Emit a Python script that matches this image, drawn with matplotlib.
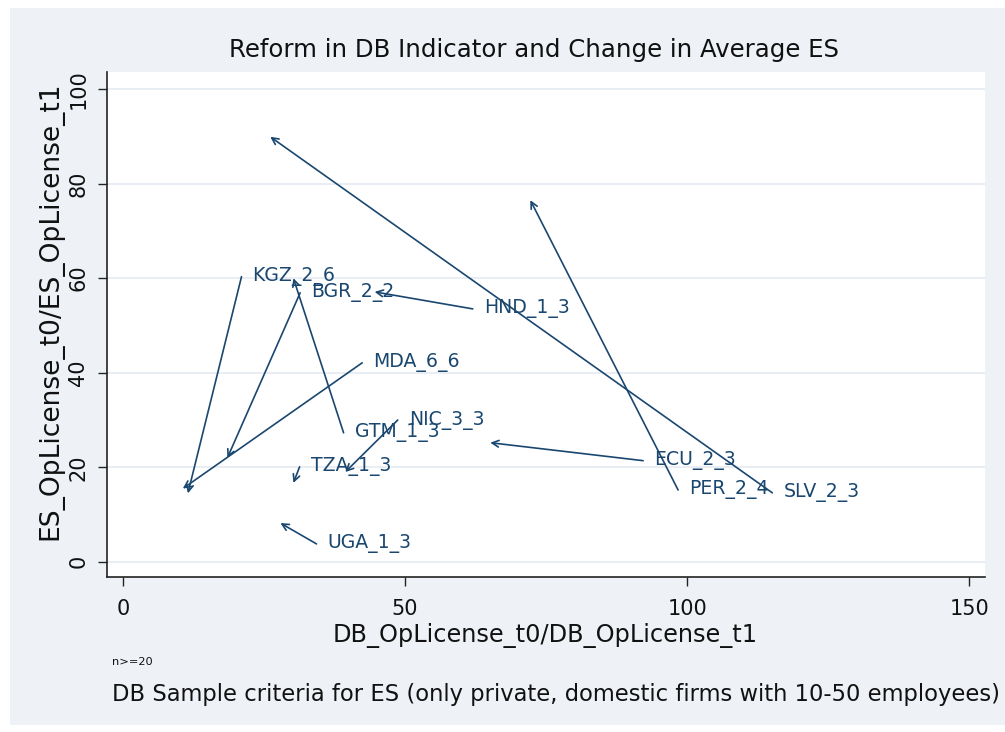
import matplotlib
matplotlib.use("Agg")
import matplotlib.pyplot as plt
from matplotlib.patches import Rectangle

plt.rcParams['font.family'] = ['DejaVu Sans']

# ---- data ----
countries = ["KGZ_2_6", "BGR_2_2", "HND_1_3", "MDA_6_6", "GTM_1_3", "NIC_3_3",
             "TZA_1_3", "UGA_1_3", "ECU_2_3", "PER_2_4", "SLV_2_3"]
db_t0 = [21.0, 31.4, 62.0, 42.4, 39.1, 48.7, 31.3, 34.3, 92.2, 98.4, 115.1]
es_t0 = [60.3, 56.9, 53.5, 42.1, 27.3, 30.0, 20.1, 3.8, 21.4, 15.2, 14.6]
db_t1 = [11.5, 18.5, 44.6, 10.6, 30.2, 39.4, 30.2, 27.9, 65.1, 72.2, 26.1]
es_t1 = [14.5, 22.0, 57.1, 15.5, 60.0, 19.0, 16.7, 8.2, 25.2, 76.5, 89.9]

x_ticks = [0, 50, 100, 150]
y_ticks = [0, 20, 40, 60, 80, 100]

title = "Reform in DB Indicator and Change in Average ES"
xlabel = "DB_OpLicense_t0/DB_OpLicense_t1"
ylabel = "ES_OpLicense_t0/ES_OpLicense_t1"
note1 = "n>=20"
note2 = "DB Sample criteria for ES (only private, domestic firms with 10-50 employees)"

navy = "#1a476f"
bg = "#eef2f7"
grid_c = "#e9eef4"

W, H = 1005, 732
fig = plt.figure(figsize=(W / 100, H / 100), dpi=100, facecolor="white")
fig.add_artist(Rectangle((10 / W, 1 - 725 / H), 1 - 10 / W, (725 - 8) / H,
                         transform=fig.transFigure, facecolor=bg,
                         edgecolor="none", zorder=-5))

ax = fig.add_axes([107 / W, 1 - 577 / H, (985 - 107) / W, (577 - 72) / H])
ax.set_zorder(2)
ax.set_facecolor("white")
ax.set_xlim(-2.84, 152.8)
ax.set_ylim(-3.2, 103.6)

for v in y_ticks:
    ax.axhline(v, color=grid_c, lw=1.4, zorder=0)

for name, x0, y0, x1, y1 in zip(countries, db_t0, es_t0, db_t1, es_t1):
    ax.annotate("", xy=(x1, y1), xytext=(x0, y0),
                arrowprops=dict(arrowstyle="->", color=navy, lw=1.2,
                                shrinkA=0, shrinkB=0, mutation_scale=12),
                zorder=3)
    ax.annotate(name, xy=(x0, y0), xytext=(8.0, 0), textcoords="offset points",
                ha="left", va="center", fontsize=13.6, color=navy, zorder=4)

ax.set_xticks(x_ticks)
ax.set_yticks(y_ticks)
ax.tick_params(axis="both", direction="out", length=6.5, width=1.0,
               color="#222222", labelsize=15, labelcolor="#111111")
ax.tick_params(axis="x", pad=9)
ax.tick_params(axis="y", pad=7)
for lab in ax.get_yticklabels():
    lab.set_rotation(90)
    lab.set_va("center")
for s in ["top", "right"]:
    ax.spines[s].set_visible(False)
for s in ["left", "bottom"]:
    ax.spines[s].set_color("#222222")
    ax.spines[s].set_linewidth(1.2)

fig.text(534 / W, 1 - 50 / H, title, ha="center", va="center", fontsize=17.6, color="#111111")
fig.text(545 / W, 1 - 635 / H, xlabel, ha="center", va="center", fontsize=17.3, color="#111111")
fig.text(50 / W, 1 - 311 / H, ylabel, ha="center", va="center", rotation=90,
         fontsize=19.1, color="#111111")
fig.text(112 / W, 1 - 662 / H, note1, ha="left", va="center", fontsize=8.2, color="#111111")
fig.text(112 / W, 1 - 695 / H, note2, ha="left", va="center", fontsize=16.3, color="#111111")

fig.savefig("out.png", dpi=100, facecolor="white")
